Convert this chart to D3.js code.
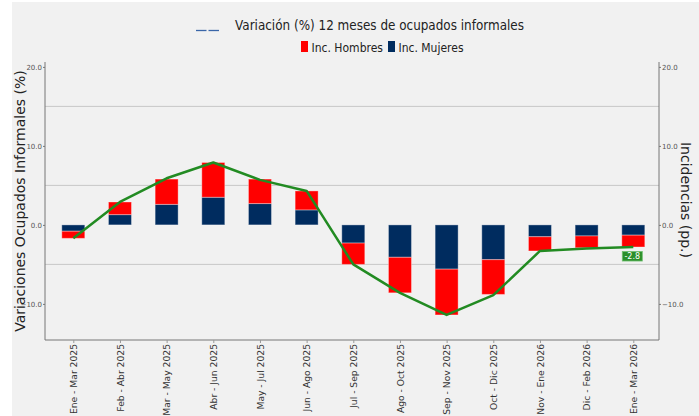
<!DOCTYPE html>
<html><head><meta charset="utf-8">
<script src="https://cdn.jsdelivr.net/npm/d3@7"></script>
<style>
body{margin:0;background:#fff;}
svg{display:block;}
.cond{font-family:"DejaVu Sans",sans-serif;}
</style></head>
<body><svg id="c" width="699" height="416"></svg>
<script>
const categories = ["Ene - Mar 2025","Feb - Abr 2025","Mar - May 2025","Abr - Jun 2025","May - Jul 2025","Jun - Ago 2025","Jul - Sep 2025","Ago - Oct 2025","Sep - Nov 2025","Oct - Dic 2025","Nov - Ene 2026","Dic - Feb 2026","Ene - Mar 2026"];
const incMujeres = [-0.8, 1.3, 2.6, 3.5, 2.7, 1.9, -2.3, -4.1, -5.6, -4.4, -1.5, -1.4, -1.3];
const incHombres = [-0.9, 1.6, 3.2, 4.4, 3.1, 2.4, -2.7, -4.5, -5.8, -4.4, -1.8, -1.5, -1.5];
const variacion = [-1.7, 2.9, 5.9, 7.9, 5.7, 4.3, -5.0, -8.6, -11.4, -8.9, -3.3, -3.0, -2.8];
const yTicks = [-10, 0, 10, 20];
const gridValues = [-5, 5, 15];
const lastLabel = "-2.8";

const svg = d3.select("#c");
const C = {bg:"#f1f1f1", red:"#ff0000", navy:"#002c5f", green:"#228b22", grid:"#c8c8c8", axis:"#777"};
const L = 45, R = 659, T = 62, B = 340;

svg.append("rect").attr("x",12).attr("y",2).attr("width",687).attr("height",414).attr("fill",C.bg);

const x = d3.scalePoint().domain(categories).range([73.3, 633.3]);
const y = d3.scaleLinear().domain([-14.57, 20.62]).range([B, T]);
const bw = 23;

// gridlines
svg.append("g").selectAll("line").data(gridValues).join("line")
  .attr("x1",L).attr("x2",R).attr("y1",d=>y(d)).attr("y2",d=>y(d))
  .attr("stroke",C.grid).attr("stroke-width",1);

// bars: Mujeres from 0, Hombres stacked on it
const gb = svg.append("g");
categories.forEach((c,i)=>{
  const m = incMujeres[i], h = incHombres[i];
  const segs = [
    {a:0, b:m, col:C.navy},
    {a:m, b:m+h, col:C.red}
  ];
  segs.forEach(s=>{
    gb.append("rect")
      .attr("x", x(c)-bw/2).attr("width", bw)
      .attr("y", y(Math.max(s.a,s.b))).attr("height", Math.abs(y(s.a)-y(s.b)))
      .attr("fill", s.col).attr("stroke","#ffffff").attr("stroke-opacity",0.35).attr("stroke-width",1);
  });
});

// line
svg.append("path").datum(variacion)
  .attr("d", d3.line().x((d,i)=>x(categories[i])).y(d=>y(d)))
  .attr("fill","none").attr("stroke",C.green).attr("stroke-width",2.5).attr("stroke-linejoin","round");

// last label
const lx = x(categories[categories.length-1]), ly = y(variacion[variacion.length-1]);
svg.append("rect").attr("x",lx-11).attr("y",ly+4.5).attr("width",20).attr("height",9.5)
  .attr("fill","#2a8f2a").attr("stroke","#6fbf6f").attr("stroke-width",0.8);
svg.append("text").attr("x",lx-1).attr("y",ly+12.3).attr("text-anchor","middle")
  .attr("font-family","DejaVu Sans").attr("font-size",8).attr("fill","#fff").text(lastLabel);

// axes
const leftAx = svg.append("g").attr("transform",`translate(${L},0)`)
  .call(d3.axisLeft(y).tickValues(yTicks).tickFormat(d3.format(".1f")).tickSize(2).tickPadding(1));
const rightAx = svg.append("g").attr("transform",`translate(${R},0)`)
  .call(d3.axisRight(y).tickValues(yTicks).tickFormat(d3.format(".1f")).tickSize(2).tickPadding(1));
[leftAx,rightAx].forEach(g=>{
  g.select(".domain").remove();
  g.selectAll("text").attr("font-family","DejaVu Sans").attr("font-size",7).attr("fill","#555");
  g.selectAll("line").attr("stroke","#777");
});
svg.append("line").attr("x1",L).attr("x2",L).attr("y1",T).attr("y2",B).attr("stroke",C.axis);
svg.append("line").attr("x1",R).attr("x2",R).attr("y1",T).attr("y2",B).attr("stroke",C.axis);
svg.append("line").attr("x1",L).attr("x2",R).attr("y1",B).attr("y2",B).attr("stroke",C.axis);

const xAx = svg.append("g").attr("transform",`translate(0,${B})`)
  .call(d3.axisBottom(x).tickSize(3).tickPadding(2));
xAx.select(".domain").remove();
xAx.selectAll("line").attr("stroke","#999");
xAx.selectAll("text").attr("transform","rotate(-90)").attr("x",-4).attr("y",0).attr("dy","0.35em")
  .style("text-anchor","end").attr("font-family","DejaVu Sans").attr("font-size",9.2).attr("fill","#333");

// axis titles
svg.append("text").attr("transform","translate(25,201) rotate(-90)").attr("text-anchor","middle")
  .attr("font-family","DejaVu Sans").attr("font-size",14).attr("fill","#222").text("Variaciones Ocupados Informales (%)");
svg.append("text").attr("transform","translate(681,200) rotate(90)").attr("text-anchor","middle")
  .attr("font-family","DejaVu Sans").attr("font-size",14).attr("fill","#222").text("Incidencias (pp.)");

// title + legend
svg.append("line").attr("x1",196).attr("x2",206.5).attr("y1",30.5).attr("y2",30.5).attr("stroke","#3a66a8").attr("stroke-width",1.3);
svg.append("line").attr("x1",208.5).attr("x2",219).attr("y1",30.5).attr("y2",30.5).attr("stroke","#3a66a8").attr("stroke-width",1.3);
svg.append("text").attr("class","cond").attr("x",235).attr("y",30).attr("font-size",14.5).attr("fill","#222")
  .attr("textLength",289).attr("lengthAdjust","spacingAndGlyphs")
  .text("Variación (%) 12 meses de ocupados informales");

const legend = [{name:"Inc. Hombres", col:C.red, x:301, w:71.5},{name:"Inc. Mujeres", col:C.navy, x:388, w:65}];
legend.forEach(l=>{
  svg.append("rect").attr("x",l.x).attr("y",41).attr("width",7).attr("height",11).attr("fill",l.col);
  svg.append("text").attr("class","cond").attr("x",l.x+10.5).attr("y",51.5).attr("font-size",13).attr("fill","#222")
    .attr("textLength",l.w).attr("lengthAdjust","spacingAndGlyphs").text(l.name);
});
</script></body></html>
